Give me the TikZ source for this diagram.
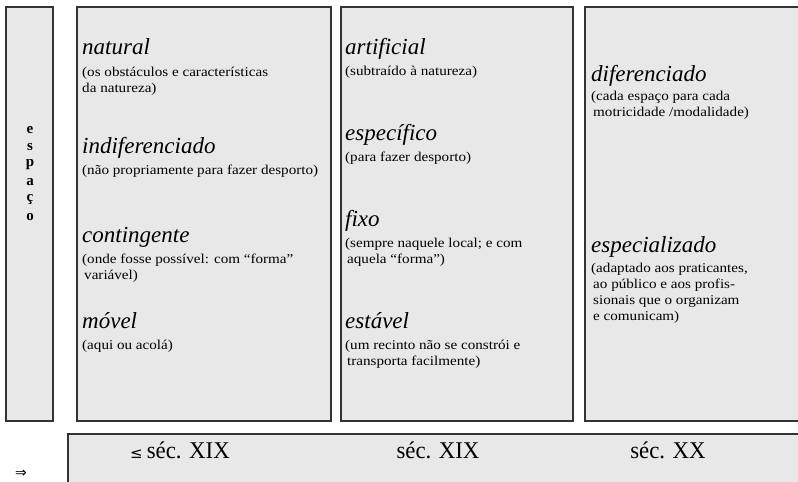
\documentclass[tikz,border=0pt]{standalone}
\usepackage{fontspec}
\setmainfont{Liberation Serif}
\newfontfamily\bodyfont[FakeStretch=1.12]{Liberation Serif}
\newfontfamily\erafont[FakeStretch=0.95]{Liberation Serif}
\newfontfamily\symfont{DejaVu Sans}
\begin{document}
\begin{tikzpicture}[x=1pt,y=-1pt,
  panel/.style={draw=black!80, line width=1.6pt, fill=black!9},
  head/.style={anchor=base west, inner sep=0pt, font=\fontsize{23}{26}\selectfont\itshape},
  % base anchor of a multi-line node sits on its last line
  desc/.style={anchor=base west, inner sep=0pt, align=left, font=\bodyfont\fontsize{13.5}{16}\selectfont},
  era/.style={anchor=base, inner sep=0pt, font=\erafont\fontsize{24}{26}\selectfont},
  vletter/.style={inner sep=0pt, font=\fontsize{15}{17}\selectfont\bfseries}]
\useasboundingbox (0,0) rectangle (798,482);

% panels
\draw[panel] (6,7) rectangle (53,421);
\draw[panel] (77,7) rectangle (331,421);
\draw[panel] (341,7) rectangle (573,421);
\draw[panel] (585,7) rectangle (806,421);
\draw[panel] (68,434) rectangle (806,492);

% vertical label
\foreach \c [count=\i] in {e,s,p,a,ç,o}
  \node[vletter] (v\i) at (30,{112.5+17.5*\i}) {\c};

% first column
\node[head] (nat) at (82,54) {natural};
\node[desc] (natd) at (82,92) {(os obstáculos e características\\da natureza)};
\node[head] (ind) at (82,153) {indiferenciado};
\node[desc] (indd) at (82,174) {(não propriamente para fazer desporto)};
\node[head] (con) at (82,242) {contingente};
\node[desc] (cond) at (82,279) {(onde fosse possível: com “forma”\\\hspace*{2pt}variável)};
\node[head] (mov) at (82,328) {móvel};
\node[desc] (movd) at (82,349) {(aqui ou acolá)};

% second column
\node[head] (art) at (345,54) {artificial};
\node[desc] (artd) at (345,75) {(subtraído à natureza)};
\node[head] (esp) at (345,140) {específico};
\node[desc] (espd) at (345,161) {(para fazer desporto)};
\node[head] (fix) at (345,226) {fixo};
\node[desc] (fixd) at (345,263) {(sempre naquele local; e com\\\hspace*{2pt}aquela “forma”)};
\node[head] (est) at (345,328) {estável};
\node[desc] (estd) at (345,365) {(um recinto não se constrói e\\\hspace*{2pt}transporta facilmente)};

% third column
\node[head] (dif) at (591,81) {diferenciado};
\node[desc] (difd) at (591,116) {(cada espaço para cada\\\hspace*{2pt}motricidade /modalidade)};
\node[head] (spe) at (591,252) {especializado};
\node[desc] (sped) at (591,320) {(adaptado aos praticantes,\\\hspace*{2pt}ao público e aos profis-\\\hspace*{2pt}sionais que o organizam\\\hspace*{2pt}e comunicam)};

% time line
\node[era] (e1) at (180,458) {{\symfont\fontsize{15}{18}\selectfont ≤}\,séc. XIX};
\node[era] (e2) at (438,458) {séc. XIX};
\node[era] (e3) at (668,458) {séc. XX};
\node[inner sep=0pt, font=\symfont\fontsize{14}{16}\selectfont] (arr) at (21,474) {⇒};
\end{tikzpicture}
\end{document}
